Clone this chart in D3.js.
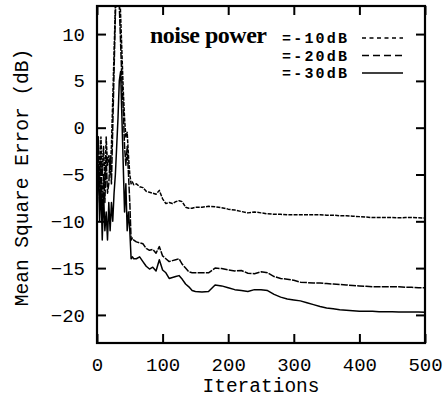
<!DOCTYPE html>
<html>
<head>
<meta charset="utf-8">
<script src="https://cdn.jsdelivr.net/npm/d3@7"></script>
<style>
  html, body { margin: 0; padding: 0; background: #fff; }
  svg { display: block; }
</style>
</head>
<body>
<svg id="chart" width="445" height="397"></svg>
<script>
// ---- data ----
const iterations = [
  0, 2, 4, 6, 8, 10, 12, 14, 16, 18, 20, 22, 24, 26, 28, 30, 32, 34, 36, 38, 40, 42, 44, 46, 48, 50, 52, 54, 56,
  60, 65, 70, 75, 80, 85, 90, 95, 100, 105, 110, 115, 120, 125, 130, 135, 140, 145, 150,
  160, 170, 180, 190, 200, 210, 220, 230, 240, 250, 260, 270, 280, 290, 300, 310, 320, 330, 340,
  350, 360, 370, 380, 390, 400, 410, 420, 430, 440, 450, 460, 470, 480, 490, 500
];
const mse10 = [
  -4, -1, -6, -1, -5, -2, -6, -1, -4, -3, -5, -2, 3, 8, 13, 17, 18, 16, 12, 8, 4, 1, -1, -0.5, -3, -5, -6, -5.8, -6.1,
  -6.0, -6.3, -6.4, -6.8, -6.9, -7.0, -7.1, -6.7, -7.6, -8.1, -8.0, -8.1, -7.9, -7.8, -7.9, -8.5, -8.6, -8.6, -8.5,
  -8.5, -8.4, -8.45, -8.55, -8.7, -8.8, -8.95, -9.1, -9.0, -9.1, -9.2, -9.25, -9.25, -9.3, -9.3, -9.3, -9.3, -9.3, -9.3,
  -9.35, -9.35, -9.4, -9.4, -9.45, -9.5, -9.55, -9.6, -9.6, -9.6, -9.6, -9.62, -9.6, -9.6, -9.63, -9.65
];
const mse20 = [
  -6, -1, -8, -3, -9, -5, -8, -3, -7, -6, -3, -6, 0, 6, 12, 16, 17, 13, 9, 5, 2, -2, -4, -2, -5, -8, -12, -11.8, -12,
  -12.2, -12.3, -12.4, -12.9, -13.1, -13.0, -13.4, -12.7, -13.7, -14.0, -14.3, -14.2, -14.1, -14.0, -14.6, -15.0, -15.4, -15.5, -15.5,
  -15.5, -15.5, -15.0, -15.05, -15.2, -15.3, -15.25, -15.55, -15.6, -15.4, -15.5, -15.9, -16.1, -16.2, -16.3, -16.5, -16.55, -16.6, -16.6,
  -16.65, -16.7, -16.75, -16.8, -16.85, -16.9, -16.95, -17.0, -17.0, -17.0, -17.0, -17.0, -17.05, -17.05, -17.1, -17.1
];
const mse30 = [
  -8, -4, -10, -6, -12, -7, -11, -9, -12, -8, -11, -8, -10, -7, -5, -2, 1, 5, 6, 1, -4, -9, -6, -11, -9, -11, -14, -13.8, -14,
  -14.0, -13.8, -14.3, -14.8, -15.1, -14.9, -15.3, -14.1, -15.2, -15.5, -16.1, -16.0, -15.9, -15.8, -16.2, -16.7, -17.0, -17.4, -17.5,
  -17.55, -17.5, -16.8, -16.9, -17.1, -17.3, -17.4, -17.5, -17.3, -17.3, -17.4, -17.8, -18.1, -18.3, -18.4, -18.5, -18.7, -18.9, -19.1,
  -19.25, -19.35, -19.45, -19.5, -19.55, -19.6, -19.6, -19.62, -19.65, -19.65, -19.67, -19.68, -19.7, -19.7, -19.7, -19.72
];
const seriesLabels = ["=-10dB", "=-20dB", "=-30dB"];
const xTicks = [0, 100, 200, 300, 400, 500];
const yTicks = [-20, -15, -10, -5, 0, 5, 10];

// ---- layout ----
const svg = d3.select("#chart");
const L = 97, R = 425, T = 6, B = 343;
const x = d3.scaleLinear().domain([0, 500]).range([L, R]);
const y = d3.scaleLinear().domain([-23, 13]).range([B, T]);
const MONO = "Liberation Mono, monospace";

const styles = [
  { plotDash: "4,1.2", legendDash: "4,3.5" },
  { plotDash: "7,1.2", legendDash: "7,4" },
  { plotDash: null, legendDash: null }
];
const series = [mse10, mse20, mse30];

svg.append("clipPath").attr("id", "clip")
  .append("rect").attr("x", L).attr("y", T).attr("width", R - L).attr("height", B - T);

const line = d3.line().x((d, i) => x(iterations[i])).y(d => y(d));

const g = svg.append("g").attr("clip-path", "url(#clip)");
series.forEach((s, k) => {
  g.append("path")
    .datum(s)
    .attr("d", line)
    .attr("fill", "none")
    .attr("stroke", "#000")
    .attr("stroke-width", 1.5)
    .attr("stroke-linejoin", "round")
    .attr("stroke-dasharray", styles[k].plotDash);
});

// axes
function styleAxis(sel) {
  sel.select(".domain").remove();
  sel.selectAll(".tick line").attr("stroke", "#000").attr("stroke-width", 2);
  sel.selectAll(".tick text")
    .attr("font-size", 19)
    .attr("fill", "#000")
    .attr("font-family", MONO);
}
svg.append("g").attr("transform", `translate(${L},0)`)
  .call(d3.axisLeft(y).tickValues(yTicks).tickSize(-9).tickPadding(12).tickFormat(d3.format("d")))
  .call(styleAxis);
svg.append("g").attr("transform", `translate(${R},0)`)
  .call(d3.axisRight(y).tickValues(yTicks).tickSize(-9).tickFormat(""))
  .call(styleAxis);
svg.append("g").attr("transform", `translate(0,${B})`)
  .call(d3.axisBottom(x).tickValues(xTicks).tickSize(-9).tickPadding(15).tickFormat(d3.format("d")))
  .call(styleAxis);
svg.append("g").attr("transform", `translate(0,${T})`)
  .call(d3.axisTop(x).tickValues(xTicks).tickSize(-9).tickFormat(""))
  .call(styleAxis);

// frame
svg.append("rect")
  .attr("x", L).attr("y", T).attr("width", R - L).attr("height", B - T)
  .attr("fill", "none").attr("stroke", "#000").attr("stroke-width", 2.2);

// axis titles
svg.append("text")
  .attr("x", (L + R) / 2).attr("y", 392)
  .attr("text-anchor", "middle")
  .attr("font-family", MONO)
  .attr("font-size", 19.5)
  .text("Iterations");
svg.append("text")
  .attr("transform", `translate(28,${(47 + 308) / 2}) rotate(-90)`)
  .attr("text-anchor", "middle")
  .attr("font-family", MONO)
  .attr("font-size", 19.5)
  .text("Mean Square Error (dB)");

// legend
const rowY = [43, 60.5, 78];
svg.append("text")
  .attr("x", 150).attr("y", rowY[0])
  .attr("font-family", "Liberation Serif, Times New Roman, serif")
  .attr("font-weight", "bold")
  .attr("font-size", 24)
  .attr("letter-spacing", -0.5)
  .text("noise power");
seriesLabels.forEach((lab, k) => {
  svg.append("text")
    .attr("x", 282).attr("y", rowY[k])
    .attr("font-family", MONO)
    .attr("font-size", 15)
    .attr("font-weight", "bold")
    .attr("letter-spacing", 2.2)
    .text(lab);
  svg.append("line")
    .attr("x1", 362).attr("x2", 403)
    .attr("y1", rowY[k] - 5).attr("y2", rowY[k] - 5)
    .attr("stroke", "#000").attr("stroke-width", 1.3)
    .attr("stroke-dasharray", styles[k].legendDash);
});
</script>
</body>
</html>
